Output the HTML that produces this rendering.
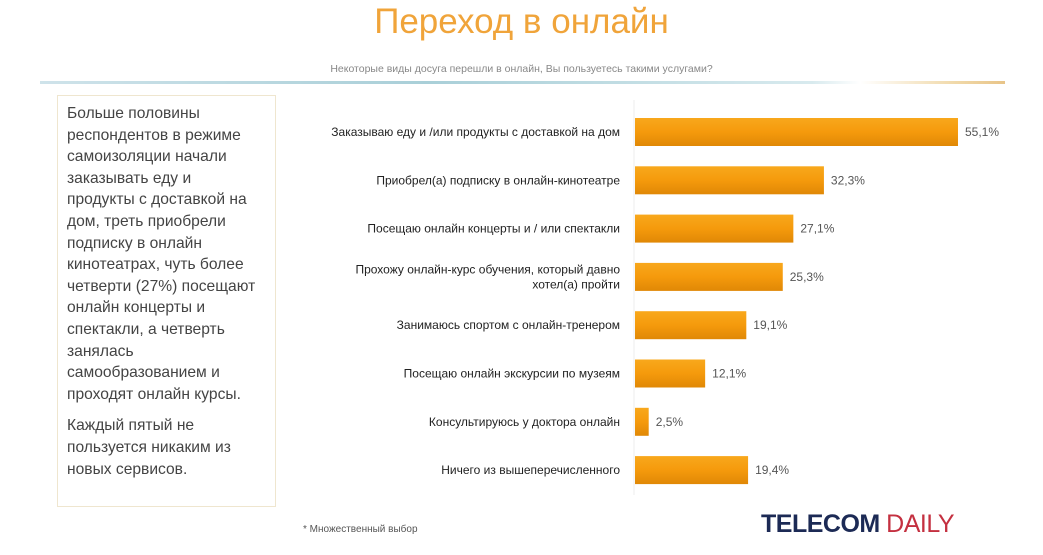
<!DOCTYPE html>
<html><head><meta charset="utf-8"><style>
body{margin:0;width:1043px;height:555px;background:#fff;position:relative;overflow:hidden;font-family:"Liberation Sans","DejaVu Sans",sans-serif}
.abs{position:absolute}
#title{left:0;width:1043px;top:2px;text-align:center;font-size:35px;color:#f0a43a}
#sub{left:0;width:1043px;top:63px;text-align:center;font-size:10.5px;color:#888}
#sep{left:40px;top:81px;width:965px;height:3px;background:linear-gradient(90deg,#cfe3ea,#a9cfd8 40%,#d8eaee 80%,#fff 85%,#f0d8a8 95%,#e8c488)}
#box{left:57px;top:95px;width:219px;height:412px;border:1px solid #efe6cf;box-sizing:border-box;padding:7px 0 0 9px;font-size:15.6px;line-height:21.6px;color:#444;white-space:nowrap}
#box p{margin:0 0 10px 0}
#note{left:303px;top:524px;font-size:10px;color:#555}
#logo{left:761px;top:510px;font-size:25px;font-weight:bold;color:#1c2a55;letter-spacing:-0.5px}
#logo span{color:#c43040;font-weight:normal}
</style></head><body>
<div id="title" class="abs">Переход в онлайн</div>
<div id="sub" class="abs">Некоторые виды досуга перешли в онлайн, Вы пользуетесь такими услугами?</div>
<div id="sep" class="abs"></div>
<div id="box" class="abs">
<p>Больше половины<br>респондентов в режиме<br>самоизоляции начали<br>заказывать еду и<br>продукты с доставкой на<br>дом, треть приобрели<br>подписку в онлайн<br>кинотеатрах, чуть более<br>четверти (27%) посещают<br>онлайн концерты и<br>спектакли, а четверть<br>занялась<br>самообразованием и<br>проходят онлайн курсы.</p>
<p>Каждый пятый не<br>пользуется никаким из<br>новых сервисов.</p>
</div>
<svg class="abs" style="left:0;top:0" width="1043" height="555" id="chart">
<defs><linearGradient id="g" x1="0" y1="0" x2="0" y2="1"><stop offset="0" stop-color="#f8a81c"/><stop offset="0.5" stop-color="#f59a0c"/><stop offset="1" stop-color="#e08806"/></linearGradient></defs>
</svg>
<div id="note" class="abs">* Множественный выбор</div>
<div id="logo" class="abs">TELECOM <span>DAILY</span></div>
<script>
const categories=[["Заказываю еду и /или продукты с доставкой на дом"],["Приобрел(а) подписку в онлайн-кинотеатре"],["Посещаю онлайн концерты и / или спектакли"],["Прохожу онлайн-курс обучения, который давно","хотел(а) пройти"],["Занимаюсь спортом с онлайн-тренером"],["Посещаю онлайн экскурсии по музеям"],["Консультируюсь у доктора онлайн"],["Ничего из вышеперечисленного"]];
const values=[55.1,32.3,27.1,25.3,19.1,12.1,2.5,19.4];
const valueLabels=["55,1%","32,3%","27,1%","25,3%","19,1%","12,1%","2,5%","19,4%"];
const svg=document.getElementById('chart');const NS='http://www.w3.org/2000/svg';
const x0=634,pxPer=5.88,y0=132,step=48.3,bh=28;
const xs=v=>x0+v*pxPer, ys=i=>y0+i*step;
const ax=document.createElementNS(NS,'line');


ax.setAttribute('x1',x0);ax.setAttribute('x2',x0);ax.setAttribute('y1',100);ax.setAttribute('y2',495);ax.setAttribute('stroke','#eee');svg.appendChild(ax);
values.forEach((v,i)=>{
const r=document.createElementNS(NS,'rect');


r.setAttribute('x',x0+1);r.setAttribute('y',ys(i)-bh/2);r.setAttribute('width',xs(v)-x0-1);r.setAttribute('height',bh);r.setAttribute('fill','url(#g)');svg.appendChild(r);
const t=document.createElementNS(NS,'text');


t.setAttribute('x',xs(v)+7);t.setAttribute('y',ys(i)+4);t.setAttribute('font-size','12');t.setAttribute('fill','#555');t.textContent=valueLabels[i];svg.appendChild(t);
const lines=categories[i];
lines.forEach((s,k)=>{
const c=document.createElementNS(NS,'text');


c.setAttribute('x',620);c.setAttribute('y',ys(i)+4+(k-(lines.length-1)/2)*15);c.setAttribute('text-anchor','end');c.setAttribute('font-size','12');c.setAttribute('fill','#222');c.textContent=s;svg.appendChild(c);
});
});
</script>
</body></html>
